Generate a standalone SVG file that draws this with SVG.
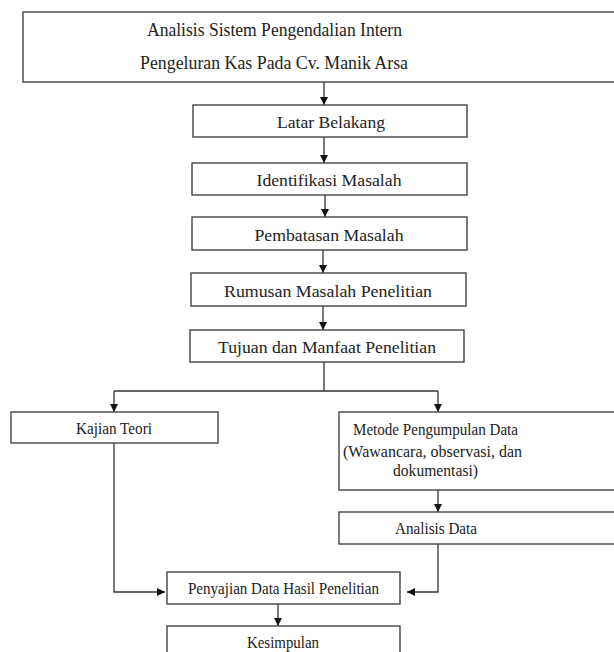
<svg xmlns="http://www.w3.org/2000/svg" width="614" height="652" viewBox="0 0 614 652">
<defs>
<style>
.box{fill:#fff;stroke:#444;stroke-width:1.4}
.t{font-family:"Liberation Serif","Times New Roman",serif;font-size:17px;fill:#222;text-anchor:middle}
.tt{font-family:"Liberation Serif","Times New Roman",serif;font-size:18.5px;fill:#222;text-anchor:middle}
.c{fill:none;stroke:#333;stroke-width:1.3}
</style>
<marker id="ah" markerUnits="userSpaceOnUse" markerWidth="10" markerHeight="10" refX="8" refY="4" orient="auto">
<path d="M0,0 L8,4 L0,8 Z" fill="#111"/>
</marker>
</defs>
<rect width="614" height="652" fill="#fff"/>
<g id="connectors">
<path class="c" d="M324,82 V105" marker-end="url(#ah)"/>
<path class="c" d="M324,137 V163" marker-end="url(#ah)"/>
<path class="c" d="M325,195 V217" marker-end="url(#ah)"/>
<path class="c" d="M323,250 V273" marker-end="url(#ah)"/>
<path class="c" d="M323,306 V330" marker-end="url(#ah)"/>
<path class="c" d="M324,362 V391 M114,391 H438"/>
<path class="c" d="M114,391 V412" marker-end="url(#ah)"/>
<path class="c" d="M438,391 V412" marker-end="url(#ah)"/>
<path class="c" d="M438,490 V512" marker-end="url(#ah)"/>
<path class="c" d="M114,443 V592 H165" marker-end="url(#ah)"/>
<path class="c" d="M438,544 V592 H407" marker-end="url(#ah)"/>
<path class="c" d="M278,604 V626" marker-end="url(#ah)"/>
</g>
<g id="n-title">
<rect class="box" x="23" y="12" width="600" height="70"/>
<text class="tt" x="274.5" y="36" textLength="255" lengthAdjust="spacingAndGlyphs">Analisis Sistem Pengendalian Intern</text>
<text class="tt" x="274" y="69" textLength="268" lengthAdjust="spacingAndGlyphs">Pengeluran Kas Pada Cv. Manik Arsa</text>
</g>
<g id="n-latar">
<rect class="box" x="193" y="105" width="274" height="32"/>
<text class="t" x="331" y="128" textLength="108" lengthAdjust="spacingAndGlyphs">Latar Belakang</text>
</g>
<g id="n-identifikasi">
<rect class="box" x="192" y="163" width="275" height="32"/>
<text class="t" x="329" y="186" textLength="145" lengthAdjust="spacingAndGlyphs">Identifikasi Masalah</text>
</g>
<g id="n-pembatasan">
<rect class="box" x="192" y="217" width="275" height="33"/>
<text class="t" x="329" y="241" textLength="149" lengthAdjust="spacingAndGlyphs">Pembatasan Masalah</text>
</g>
<g id="n-rumusan">
<rect class="box" x="191" y="273" width="275" height="33"/>
<text class="t" x="328" y="297" textLength="208" lengthAdjust="spacingAndGlyphs">Rumusan Masalah Penelitian</text>
</g>
<g id="n-tujuan">
<rect class="box" x="190" y="330" width="274" height="32"/>
<text class="t" x="327" y="353" textLength="218" lengthAdjust="spacingAndGlyphs">Tujuan dan Manfaat Penelitian</text>
</g>
<g id="n-kajian">
<rect class="box" x="11" y="412" width="207" height="31"/>
<text class="t" x="114" y="434" textLength="76" lengthAdjust="spacingAndGlyphs">Kajian Teori</text>
</g>
<g id="n-metode">
<rect class="box" x="339" y="412" width="290" height="78"/>
<text class="t" x="435.5" y="435" textLength="165" lengthAdjust="spacingAndGlyphs">Metode Pengumpulan Data</text>
<text class="t" x="432.5" y="457" textLength="179" lengthAdjust="spacingAndGlyphs">(Wawancara, observasi, dan</text>
<text class="t" x="435.5" y="476" textLength="85" lengthAdjust="spacingAndGlyphs">dokumentasi)</text>
</g>
<g id="n-analisis">
<rect class="box" x="339" y="512" width="290" height="32"/>
<text class="t" x="436" y="534" textLength="82" lengthAdjust="spacingAndGlyphs">Analisis Data</text>
</g>
<g id="n-penyajian">
<rect class="box" x="167" y="572" width="233" height="32"/>
<text class="t" x="283.5" y="594" textLength="191" lengthAdjust="spacingAndGlyphs">Penyajian Data Hasil Penelitian</text>
</g>
<g id="n-kesimpulan">
<rect class="box" x="167" y="626" width="233" height="40"/>
<text class="t" x="283" y="648" textLength="72" lengthAdjust="spacingAndGlyphs">Kesimpulan</text>
</g>
</svg>
